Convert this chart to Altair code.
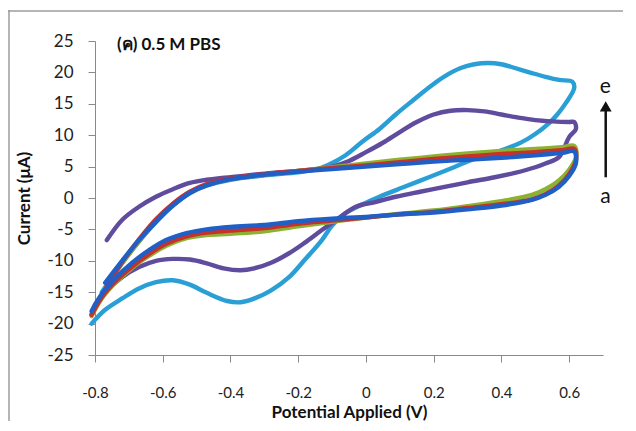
import altair as alt
import pandas as pd

# ---- data (E in V, I in uA), scan order ----
a_E = [-0.77, -0.72, -0.67, -0.62, -0.57, -0.52, -0.47, -0.40, -0.30, -0.20, -0.10, 0.0, 0.10, 0.20, 0.30, 0.40, 0.50, 0.58, 0.615,
       0.62, 0.60, 0.57, 0.53, 0.49, 0.40, 0.30, 0.20, 0.10, 0.0, -0.10, -0.20, -0.30, -0.40, -0.47, -0.53, -0.59, -0.64, -0.69, -0.74, -0.78, -0.81]
a_I = [-13.5, -10.0, -6.7, -3.8, -1.2, 0.8, 2.0, 3.0, 3.7, 4.2, 4.6, 5.0, 5.4, 5.8, 6.1, 6.4, 6.8, 7.2, 7.4,
       5.5, 3.5, 1.8, 0.5, -0.3, -1.2, -1.8, -2.3, -2.6, -3.0, -3.3, -3.7, -4.3, -4.6, -5.0, -5.6, -6.7, -8.3, -10.3, -12.8, -15.3, -18.0]

b_E = [-0.78, -0.72, -0.67, -0.62, -0.57, -0.52, -0.47, -0.40, -0.30, -0.20, -0.10, 0.0, 0.10, 0.20, 0.30, 0.40, 0.50, 0.58, 0.615,
       0.62, 0.60, 0.57, 0.53, 0.49, 0.40, 0.30, 0.20, 0.10, 0.0, -0.10, -0.20, -0.30, -0.40, -0.47, -0.53, -0.59, -0.64, -0.69, -0.74, -0.78, -0.81]
b_I = [-15.5, -10.2, -6.6, -3.4, -0.9, 1.0, 2.2, 3.1, 3.8, 4.3, 4.8, 5.2, 5.7, 6.2, 6.6, 7.0, 7.3, 7.6, 7.8,
       6.0, 3.8, 2.0, 0.6, -0.2, -1.0, -1.6, -2.2, -2.6, -3.1, -3.6, -4.1, -4.8, -5.2, -5.5, -6.1, -7.3, -8.9, -10.9, -13.3, -15.8, -18.6]

c_E = [-0.78, -0.72, -0.67, -0.62, -0.57, -0.52, -0.47, -0.40, -0.30, -0.20, -0.10, 0.0, 0.10, 0.20, 0.30, 0.40, 0.50, 0.58, 0.615,
       0.62, 0.60, 0.57, 0.53, 0.49, 0.40, 0.30, 0.20, 0.10, 0.0, -0.10, -0.20, -0.30, -0.40, -0.47, -0.53, -0.59, -0.64, -0.69, -0.74, -0.78, -0.81]
c_I = [-15.5, -10.4, -6.9, -3.6, -1.0, 0.9, 2.1, 3.0, 3.7, 4.3, 4.9, 5.5, 6.1, 6.6, 7.1, 7.5, 7.8, 8.1, 8.3,
       6.5, 4.5, 2.8, 1.4, 0.5, -0.5, -1.3, -2.0, -2.5, -3.1, -3.8, -4.5, -5.3, -5.7, -5.9, -6.4, -7.6, -9.2, -11.1, -13.5, -16.0, -18.8]

d_E = [-0.765, -0.72, -0.67, -0.62, -0.57, -0.52, -0.47, -0.425, -0.35, -0.277, -0.20, -0.13, -0.10, -0.05, 0.0, 0.05, 0.10, 0.15, 0.20, 0.25, 0.30, 0.35, 0.40, 0.45, 0.50, 0.55, 0.60, 0.615,
       0.62, 0.60, 0.57, 0.53, 0.50, 0.44, 0.38, 0.30, 0.236, 0.16, 0.088, 0.03, -0.03, -0.08, -0.13, -0.18, -0.227, -0.28, -0.33, -0.37, -0.42, -0.47, -0.52, -0.57, -0.62, -0.67, -0.72, -0.77, -0.80, -0.81]
d_I = [-6.7, -3.5, -1.4, 0.2, 1.4, 2.4, 2.9, 3.2, 3.6, 4.0, 4.3, 4.7, 5.0, 5.9, 7.3, 8.8, 10.5, 12.1, 13.3, 13.9, 14.0, 13.8, 13.3, 12.8, 12.4, 12.2, 12.1, 12.1,
       11.0, 9.7, 6.5, 5.5, 4.9, 4.0, 3.3, 2.5, 1.8, 1.0, 0.2, -0.6, -1.4, -3.2, -5.1, -7.1, -8.8, -10.3, -11.2, -11.5, -11.2, -10.4, -9.8, -9.7, -10.0, -11.0, -12.6, -15.0, -17.0, -18.5]

e_E = [-0.78, -0.72, -0.67, -0.62, -0.57, -0.52, -0.47, -0.40, -0.30, -0.20, -0.15, -0.11, -0.06, -0.01, 0.04, 0.088, 0.14, 0.186, 0.23, 0.28, 0.32, 0.36, 0.40, 0.44, 0.49, 0.53, 0.57, 0.61,
       0.615, 0.59, 0.565, 0.54, 0.50, 0.46, 0.40, 0.333, 0.26, 0.186, 0.11, 0.04, -0.01, -0.06, -0.10, -0.13, -0.18, -0.227, -0.28, -0.325, -0.37, -0.41, -0.47, -0.52, -0.57, -0.62, -0.67, -0.72, -0.77, -0.81]
e_I = [-15.0, -10.4, -6.9, -3.8, -1.2, 0.8, 2.0, 2.9, 3.6, 4.1, 4.5, 5.3, 6.8, 9.0, 11.0, 13.3, 15.6, 17.6, 19.3, 20.7, 21.3, 21.5, 21.3, 20.7, 19.9, 19.3, 18.8, 18.5,
       17.5, 15.1, 13.3, 11.9, 10.2, 8.9, 7.6, 6.5, 4.9, 3.3, 1.7, 0.2, -1.0, -2.4, -4.4, -6.7, -9.8, -12.6, -14.7, -15.9, -16.6, -16.4, -15.1, -13.8, -13.1, -13.4, -14.4, -16.0, -17.8, -20.0]

series_names = ["a", "b", "c", "d", "e"]
series_colors = {"a": "#1f5fc6", "b": "#c8302a", "c": "#8cb232", "d": "#5f4c9e", "e": "#2a9fd6"}
draw_order = ["e", "d", "c", "b", "a"]

x_ticks = [-0.8, -0.6, -0.4, -0.2, 0, 0.2, 0.4, 0.6]
y_ticks = [-25, -20, -15, -10, -5, 0, 5, 10, 15, 20, 25]

curves = {"a": (a_E, a_I), "b": (b_E, b_I), "c": (c_E, c_I), "d": (d_E, d_I), "e": (e_E, e_I)}
rows = []
for name, (E, I) in curves.items():
    for k, (x, y) in enumerate(zip(E, I)):
        rows.append({"E": x, "I": y, "series": name, "k": k})
df = pd.DataFrame(rows)

FONT = "Lato"
AX = "#8a8a8a"

x_enc = alt.X("E:Q", scale=alt.Scale(domain=[-0.8, 0.7], nice=False, zero=False),
              axis=alt.Axis(values=x_ticks, labelExpr="'' + datum.value", title="Potential Applied (V)",
                            grid=False, domainColor=AX, tickColor=AX, tickSize=7, labelPadding=23,
                            labelFontSize=15, labelColor="#222", labelFont=FONT, labelOverlap=False,
                            labelFlush=False,
                            titleFont=FONT, titleFontSize=17, titleFontWeight="bold", titleColor="#111",
                            titlePadding=4))
y_enc = alt.Y("I:Q", scale=alt.Scale(domain=[-25, 25], nice=False, zero=False),
              axis=alt.Axis(values=y_ticks, labelExpr="'' + datum.value", title="Current (μA)",
                            grid=False, domainColor=AX, tickColor=AX, tickSize=7, labelPadding=15,
                            labelFontSize=17, labelColor="#222", labelFont=FONT, labelOverlap=False,
                            labelFlush=False,
                            titleFont=FONT, titleFontSize=17, titleFontWeight="bold", titleColor="#111",
                            titlePadding=13))

layers = []
for name in draw_order:
    sub = df[df.series == name]
    layers.append(
        alt.Chart(sub).mark_line(interpolate="catmull-rom", strokeWidth=4.4, color=series_colors[name],
                                 strokeCap="round", strokeJoin="round", clip=False).encode(
            x=x_enc, y=y_enc, order="k:Q")
    )

# annotations
label_df = pd.DataFrame({"E": [-0.735], "I": [24.3], "t": ["(ค) 0.5 M PBS"]})
title_txt = alt.Chart(label_df).mark_text(align="left", baseline="middle", font=FONT, fontSize=17,
                                          fontWeight="bold", color="#111").encode(x=x_enc, y=y_enc, text="t:N")

ends_df = pd.DataFrame({"E": [0.707, 0.707], "I": [17.6, 0.2], "t": ["e", "a"]})
ends_txt = alt.Chart(ends_df).mark_text(align="center", baseline="middle", font=FONT, fontSize=21,
                                        color="#111", clip=False).encode(x=x_enc, y=y_enc, text="t:N")

arrow_df = pd.DataFrame({"E": [0.708], "I": [3.3], "I2": [14.0]})
arrow_shaft = alt.Chart(arrow_df).mark_rule(color="#111", strokeWidth=2.5, clip=False).encode(
    x=x_enc, y=y_enc, y2="I2:Q")
head_df = pd.DataFrame({"E": [0.708], "I": [14.6]})
arrow_head = alt.Chart(head_df).mark_point(shape="triangle-up", filled=True, size=140, color="#111",
                                           opacity=1, clip=False).encode(x=x_enc, y=y_enc)

# chart-area border (top and left edges visible in reference)
border_top = alt.Chart(pd.DataFrame({"v": [0]})).mark_rule(color="#9c9c9c", strokeWidth=1.5).encode(
    x=alt.value(-87), x2=alt.value(540), y=alt.value(-30))
border_left = alt.Chart(pd.DataFrame({"v": [0]})).mark_rule(color="#9c9c9c", strokeWidth=1.5).encode(
    x=alt.value(-86), y=alt.value(-31), y2=alt.value(400))

chart = alt.layer(*layers, title_txt, ends_txt, arrow_shaft, arrow_head, border_top, border_left).properties(
    width=508, height=314,
    autosize=alt.AutoSizeParams(type="none"),
    padding={"left": 87, "top": 33, "right": 20, "bottom": 66},
    background="white",
).configure_view(stroke=None).configure_axis(labelOverlap=False)

chart.save("out.html", embed_options={"renderer": "svg", "actions": False})
